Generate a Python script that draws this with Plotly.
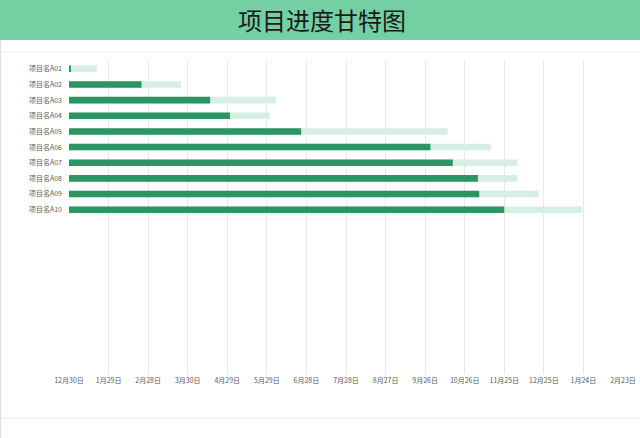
import plotly.graph_objects as go

# project names and day counts from 2018-12-30
tasks = ["项目名A01", "项目名A02", "项目名A03", "项目名A04", "项目名A05",
         "项目名A06", "项目名A07", "项目名A08", "项目名A09", "项目名A10"]
done_days = [1.5, 55, 107, 122, 176, 274, 291, 310, 311, 330]
total_days = [21, 85, 157, 152, 287, 320, 340, 340, 356, 389]

date_labels = ["12月30日", "1月29日", "2月28日", "3月30日", "4月29日", "5月29日",
               "6月28日", "7月28日", "8月27日", "9月26日", "10月26日", "11月25日",
               "12月25日", "1月24日", "2月23日"]
tick_days = [30 * i for i in range(len(date_labels))]

fig = go.Figure()
fig.add_trace(go.Bar(y=tasks, x=total_days, orientation="h",
                     marker=dict(color="#d6efe2", line=dict(width=0)),
                     width=0.42, name="计划"))
fig.add_trace(go.Bar(y=tasks, x=done_days, orientation="h",
                     marker=dict(color="#2b9563", line=dict(width=0)),
                     width=0.42, name="完成"))

fig.update_layout(
    width=640, height=438,
    autosize=False,
    margin=dict(l=69, r=17, t=61, b=64),
    barmode="overlay",
    showlegend=False,
    plot_bgcolor="white",
    paper_bgcolor="white",
    font=dict(family="Noto Sans CJK SC", size=7, color="#595959"),
    shapes=[
        # title banner
        dict(type="rect", xref="paper", yref="paper", x0=-0.13, x1=1.04,
             y0=1.067, y1=1.2, fillcolor="#74cfa3", line=dict(width=0), layer="below"),
        dict(type="line", xref="paper", yref="paper", x0=-0.13, x1=1.04,
             y0=1.0288, y1=1.0288, line=dict(color="#ededed", width=1)),
        dict(type="line", xref="paper", yref="paper", x0=-0.13, x1=1.04,
             y0=-0.1406, y1=-0.1406, line=dict(color="#e6e6e6", width=1)),
        dict(type="line", xref="paper", yref="paper", x0=-0.1236, x1=-0.1236,
             y0=-0.3, y1=1.067, line=dict(color="#dddddd", width=1)),
    ],
    annotations=[
        dict(text="项目进度甘特图", xref="paper", yref="paper", x=0.4567, y=1.131,
             xanchor="center", yanchor="middle", showarrow=False,
             font=dict(family="Noto Sans CJK SC", size=24, color="#1a1a1a"))
    ],
)
fig.update_xaxes(range=[0, 420], tickvals=tick_days, ticktext=date_labels,
                 showgrid=True, gridcolor="#e8e8e8", gridwidth=1, automargin=False,
                 zeroline=False, showline=False, ticks="", ticklabelstandoff=1)
fig.update_yaxes(range=[19.5, -0.5], showgrid=False, zeroline=False, automargin=False,
                 showline=False, ticks="", ticklabelstandoff=6)

# drop the page's default body margin so the figure sits at the window corner
fig.write_html("out.html",
               config={"displayModeBar": False, "responsive": False},
               post_script="document.body.style.margin='0';"
                           "document.body.style.overflow='hidden';")
